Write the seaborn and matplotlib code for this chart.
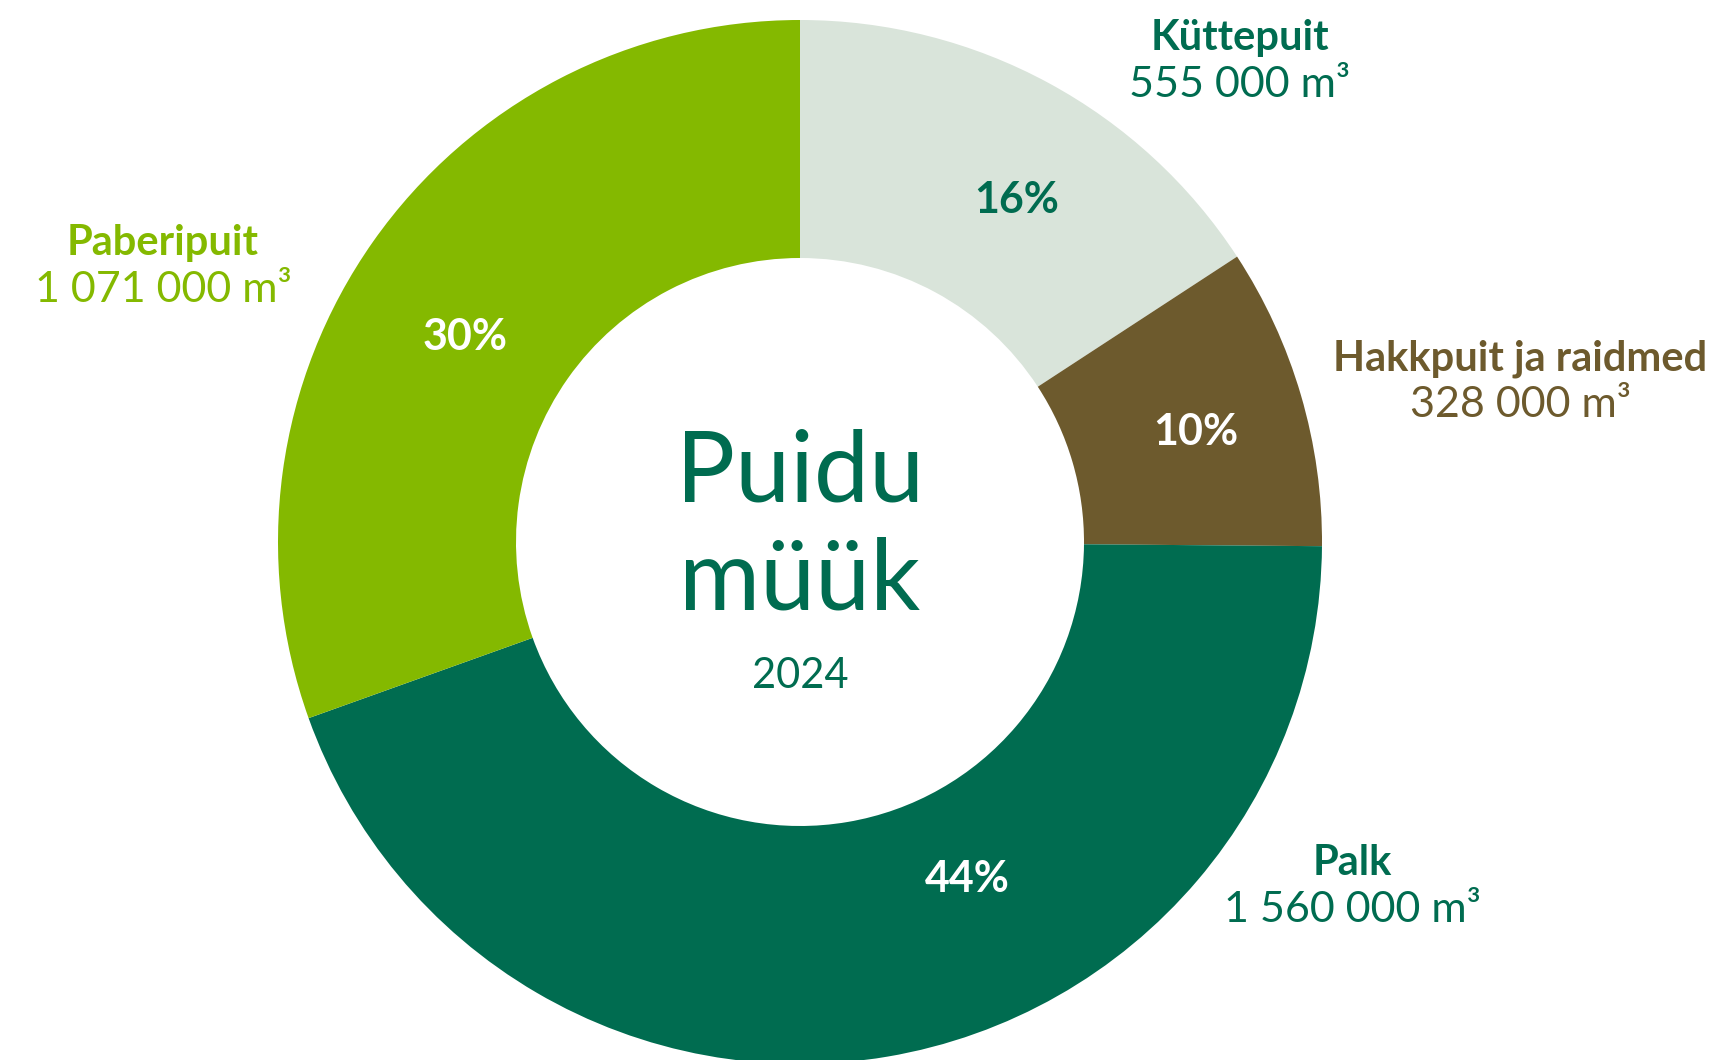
import numpy as np
import seaborn as sns
import matplotlib.pyplot as plt

# data
categories = ['Küttepuit', 'Hakkpuit ja raidmed', 'Palk', 'Paberipuit']
volumes = [555000, 328000, 1560000, 1071000]
pct_labels = ['16%', '10%', '44%', '30%']
value_labels = ['555 000 m³', '328 000 m³', '1 560 000 m³', '1 071 000 m³']

colors = ['#D9E4DA', '#6D5A2D', '#006C50', '#84B900']
text_colors = ['#006C50', '#6D5A2D', '#006C50', '#84B900']
pct_colors = ['#006C50', 'white', 'white', 'white']

# layout (pixel coords, y up, text baselines)
W, H = 1726, 1060
center = (800, 518)
r_out, r_in = 522, 284
pct_pos = [(1017, 847), (1196, 615), (967, 168), (465, 710)]
label_pos = [(1240, 1010), (1520, 690), (1352, 185), (163, 805)]

sns.set_theme(style='white')
plt.rcParams['font.family'] = ['Lato', 'DejaVu Sans']

fig = plt.figure(figsize=(W / 100, H / 100), dpi=100)
ax = fig.add_axes([0, 0, 1, 1])

ax.pie(volumes, colors=colors, startangle=90, counterclock=False,
       radius=r_out, center=center, frame=True,
       wedgeprops=dict(width=r_out - r_in, edgecolor='none', linewidth=0))

for txt, c, (x, y) in zip(pct_labels, pct_colors, pct_pos):
    ax.text(x, y, txt, color=c, fontsize=31, fontweight='bold', ha='center', va='baseline')

for name, val, c, (x, y) in zip(categories, value_labels, text_colors, label_pos):
    ax.text(x, y, name, color=c, fontsize=30, fontweight='bold', ha='center', va='baseline')
    ax.text(x, y - 47, val, color=c, fontsize=31, ha='center', va='baseline')

ax.text(center[0], 558, 'Puidu', color='#006C50', fontsize=71, ha='center', va='baseline')
ax.text(center[0], 450, 'müük', color='#006C50', fontsize=71, ha='center', va='baseline')
ax.text(center[0], 372, '2024', color='#006C50', fontsize=30, ha='center', va='baseline')

ax.set_xlim(0, W)
ax.set_ylim(0, H)
ax.set_aspect('equal')
ax.axis('off')

fig.savefig('out.png', dpi=100, facecolor='white')
plt.close(fig)
